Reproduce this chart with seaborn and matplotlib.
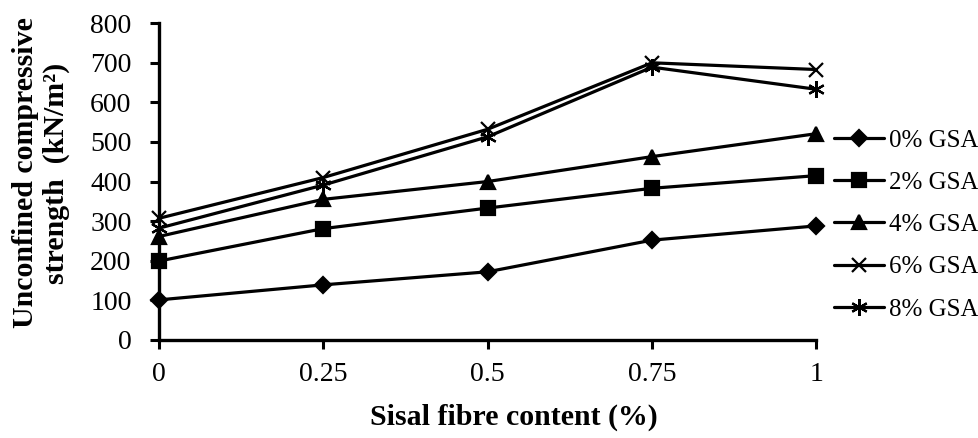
import matplotlib
matplotlib.use("Agg")
import matplotlib.pyplot as plt
import seaborn as sns
import pandas as pd

fibre = [0, 0.25, 0.5, 0.75, 1]
gsa_0 = [101, 139, 172, 252, 288]
gsa_2 = [199, 281, 333, 383, 415]
gsa_4 = [261, 355, 400, 463, 521]
gsa_6 = [307, 410, 532, 700, 683]
gsa_8 = [282, 391, 513, 689, 633]
series_names = ["0% GSA", "2% GSA", "4% GSA", "6% GSA", "8% GSA"]
x_tick_labels = ["0", "0.25", "0.5", "0.75", "1"]
y_ticks = [0, 100, 200, 300, 400, 500, 600, 700, 800]

sns.set_theme(style="white")
plt.rcParams["font.family"] = ["Liberation Serif", "DejaVu Serif"]

fig = plt.figure(figsize=(9.79, 4.38), dpi=100)
ax = fig.add_axes([0.162, 0.224, 0.672, 0.723])

markers = {"0% GSA": ("D", 8), "2% GSA": ("s", 10), "4% GSA": ("^", 10),
           "6% GSA": ("x", 10), "8% GSA": ((6, 2, 0), 12)}
values = [gsa_0, gsa_2, gsa_4, gsa_6, gsa_8]

frames = []
for name, vals in zip(series_names, values):
    frames.append(pd.DataFrame({"fibre": fibre, "ucs": vals, "mix": name}))
df = pd.concat(frames, ignore_index=True)

for name in series_names:
    m, ms = markers[name]
    sns.lineplot(data=df[df["mix"] == name], x="fibre", y="ucs", ax=ax,
                 color="black", linewidth=2.3, marker=m, markersize=ms,
                 markeredgewidth=1.6, markeredgecolor="black",
                 markerfacecolor="black", label=name, clip_on=False,
                 legend=False)

ax.set_xlim(0, 1)
ax.set_ylim(0, 800)
ax.set_xticks(fibre)
ax.set_xticklabels(x_tick_labels)
ax.set_yticks(y_ticks)

for side in ["top", "right"]:
    ax.spines[side].set_visible(False)
for side in ["left", "bottom"]:
    ax.spines[side].set_color("black")
    ax.spines[side].set_linewidth(2.4)

ax.tick_params(axis="both", which="major", direction="out", length=6.5,
               width=2.2, color="black", labelsize=20, labelcolor="black",
               left=True, bottom=True)
ax.tick_params(axis="y", pad=13)
ax.tick_params(axis="x", pad=9.5)

ax.set_xlabel("Sisal fibre content (%)", fontsize=21.5, fontweight="bold",
              color="black")
ax.xaxis.set_label_coords(0.54, -0.20)
ax.set_ylabel("Unconfined compressive\nstrength  (kN/m²)", fontsize=21.5,
              fontweight="bold", color="black", linespacing=1.2)
ax.yaxis.set_label_coords(-0.134, 0.527)

handles, labels = ax.get_legend_handles_labels()
leg = ax.legend(handles, labels, loc="center left",
                bbox_to_anchor=(1.0107, 0.363), frameon=False, fontsize=18,
                handlelength=2.0, handletextpad=0.2, labelspacing=0.79,
                borderaxespad=0)
for t in leg.get_texts():
    t.set_color("black")

fig.savefig("out.png", dpi=100)
